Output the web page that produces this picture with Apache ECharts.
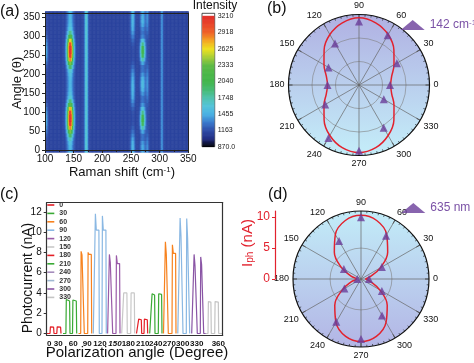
<!DOCTYPE html>
<html><head><meta charset="utf-8">
<script src="https://cdn.jsdelivr.net/npm/echarts@6/dist/echarts.min.js"></script>
<style>html,body{margin:0;padding:0;background:#fff}#c{width:474px;height:363px}</style>
</head><body><div id="c"></div>
<script>
// ================= Panel (a): Raman intensity map =================
const ramanRange = [100, 350];
const angleRange = [0, 360];
const ramanTicks = [100, 150, 200, 250, 300, 350];
const angleTickLabels = [0, 50, 100, 150, 200, 250, 300, 350];
const sampledAngles = [0,10,20,30,40,50,60,70,80,90,100,110,120,130,140,150,160,170,180,190,200,210,220,230,240,250,260,270,280,290,300,310,320,330,340,350,360];
const background = 1130;
const peakCenters = [102, 144, 172, 253, 270.5, 278.5, 304];
const peakFWHM = [5, 9, 5, 6, 7, 4, 3.5];
const peak102 = [1150,1150,1150,1170,1220,1300,1380,1430,1450,1440,1400,1320,1240,1180,1150,1150,1150,1150,1150,1150,1150,1160,1200,1280,1370,1430,1450,1440,1400,1320,1240,1180,1150,1150,1150,1150,1150];
const peak144 = [1480,1500,1560,1700,1950,2400,2900,3200,3300,3300,3150,2800,2300,1900,1650,1550,1500,1480,1480,1500,1550,1650,1950,2400,2900,3200,3300,3300,3100,2700,2200,1850,1620,1540,1500,1480,1480];
const peak172Level = 1650;
const peak253 = [1500,1500,1480,1430,1350,1280,1220,1180,1170,1170,1180,1220,1300,1380,1450,1480,1500,1500,1480,1450,1400,1330,1260,1200,1170,1160,1160,1170,1200,1250,1320,1400,1460,1490,1500,1500,1500];
const peak270 = [1450,1450,1400,1300,1300,1450,1750,2000,2100,2050,1850,1600,1400,1300,1300,1400,1500,1550,1550,1500,1400,1300,1300,1450,1750,2000,2100,2050,1850,1600,1350,1300,1350,1450,1500,1480,1450];
const peak278 = [1380,1370,1340,1300,1250,1210,1180,1170,1160,1160,1170,1180,1210,1250,1300,1340,1370,1380,1380,1370,1340,1300,1250,1210,1180,1170,1160,1160,1170,1180,1210,1250,1300,1340,1370,1380,1380];
const peak304Level = 1400;
const colorbarRange = [870, 3210];
const colorbarTickValues = [870, 1162.5, 1455, 1747.5, 2040, 2332.5, 2625, 2917.5, 3210];
const colorbarTickLabels = ['870.0', '1163', '1455', '1748', '2040', '2333', '2625', '2918', '3210'];
const colormap = ['#000000','#222d84','#2e4ba6','#3979cc','#4ab1e4','#53c3d9','#4fc2ad','#46bb73','#42b54c','#4bb748','#5eba46','#a8ce36','#eee11f','#f4a723','#ef6228','#e9452a','#e3302b'];

// ================= Panel (b): polar, 142 cm-1 =================
const polarAnglesB = [0, 30, 60, 90, 120, 150, 180, 210, 240, 270, 300, 330];
const intensityB = [0.66, 0.93, 1.22, 1.35, 1.02, 0.75, 0.67, 0.83, 1.30, 1.40, 1.05, 0.61];
const fitAnglesB = [0,15,30,45,60,75,90,105,120,135,150,165,180,195,210,225,240,255,270,285,300,315,330,345,360];
const fitB = [0.67,0.72,0.86,1.05,1.24,1.37,1.43,1.37,1.24,1.05,0.86,0.72,0.67,0.72,0.86,1.05,1.24,1.38,1.44,1.38,1.24,1.05,0.86,0.72,0.67];
const radiusMaxB = 1.5;
const ringsB = [0.5, 1.0];

// ================= Panel (c): photocurrent vs polarization =================
const angleGroups = ['0','30','60','90','120','150','180','210','240','270','300','330'];
const groupColors = ['#e41f26','#3aaa35','#f7821e','#8ab8e3','#9a5ba8','#c8c8c8','#e41f26','#3aaa35','#f7821e','#8ab8e3','#8a55a5','#c4c4c4'];
const legendColors = ['#e41f26','#3aaa35','#f7821e','#8ab8e3','#9a5ba8','#c8c8c8','#e41f26','#3aaa35','#a58cbc','#9fb8d2','#8a55a5','#c4c4c4'];
const groupBounds = [0,16.3,31.8,46.6,60.9,75,89.8,103,116.8,131.1,145,159.1,176];
const pulseOnTimes = [[3.3,10.1],[19.2,25.8],[34,41],[48.3,55.3],[62.3,69.3],[76.6,84],[91.6,97.3],[105,111.6],[118.3,125.3],[133,139.6],[147,153.6],[161.3,168]];
const pulseOffTimes = [[7.3,14.3],[23.3,30],[37.6,45],[52.6,59.6],[66,73.3],[80.6,88],[95,101],[108.3,115.3],[121.6,129.3],[136.3,143],[150.6,157],[164.6,172]];
const spikeLevels = [[0.66,0.66],[3.35,3.3],[8.1,8.0],[11.8,11.6],[7.8,7.7],[4.0,4.0],[1.42,1.42],[3.92,3.92],[9.05,8.75],[11.4,11.35],[7.8,7.55],[3.15,3.15]];
const plateauLevels = [[0.62,0.62],[3.2,3.2],[7.75,7.8],[10.2,10.2],[7.0,6.9],[4.0,4.0],[1.35,1.35],[3.8,3.85],[7.8,7.9],[9.6,9.45],[6.7,6.8],[3.1,3.1]];
const xLabelPositions = [2.6, 11.6, 26.6, 40.6, 53.3, 68.3, 81.6, 96, 109, 122.6, 136, 150, 171.6];
const xLabelTexts = ['0','30','60','90','120','150','180','210','240','270','300','330','360'];
const yTicksC = [0, 2, 4, 6, 8, 10, 12];

// ================= Panel (d): polar, 635 nm =================
const polarAnglesD = [0, 30, 60, 90, 120, 150, 180, 210, 240, 270, 300, 330];
const photocurrentD = [1.3, 3.9, 8.1, 10.0, 7.1, 3.2, 0.6, 3.1, 8.0, 9.7, 6.8, 3.9];
const fitAnglesD = [0,15,30,45,60,75,90,105,120,135,150,165,180,195,210,225,240,255,270,285,300,315,330,345,360];
const fitD = [0.7,1.6,3.6,6.1,8.3,9.8,10.3,9.8,8.3,6.1,3.6,1.6,0.7,1.6,3.5,6.0,8.1,9.6,10.1,9.6,8.1,6.0,3.5,1.6,0.7];
const radiusMaxD = 11;
const ringsD = [5];
const iphTicks = [0, 5, 10];

// ---------- build heatmap cells ----------
const RBIN = 1;
const peakAmps = [peak102, peak144, sampledAngles.map(() => peak172Level), peak253, peak270, peak278, sampledAngles.map(() => peak304Level)];
const heatData = [];
for (let ai = 0; ai < sampledAngles.length; ai++) {
  for (let x = ramanRange[0] + RBIN / 2; x < ramanRange[1]; x += RBIN) {
    let v = background;
    for (let p = 0; p < peakCenters.length; p++) {
      const d = (x - peakCenters[p]) / peakFWHM[p];
      v += (peakAmps[p][ai] - background) * Math.exp(-2.7726 * d * d);
    }
    v = Math.max(colorbarRange[0], Math.min(colorbarRange[1], v));
    heatData.push([x, sampledAngles[ai], v]);
  }
}
const CBSTEP = 10;
const colorbarData = [];
for (let v = colorbarRange[0]; v < colorbarRange[1]; v += CBSTEP) colorbarData.push([0.5, v, v + CBSTEP / 2]);

function pulseSeriesData(g) {
  const pts = [[groupBounds[g], 0]];
  for (let k = 0; k < 2; k++) {
    const on = pulseOnTimes[g][k], off = pulseOffTimes[g][k];
    pts.push([on, 0], [on + 0.4, spikeLevels[g][k]], [on + 1.3, plateauLevels[g][k]], [off - 0.4, plateauLevels[g][k]], [off, 0]);
  }
  pts.push([groupBounds[g + 1], 0]);
  return pts;
}

function polarBackground(colors, rings) {
  return function (params, api) {
    const cs = params.coordSys;
    const children = [{
      type: 'circle', shape: { cx: cs.cx, cy: cs.cy, r: cs.r },
      style: { fill: { type: 'linear', x: 0, y: 0, x2: 0, y2: 1, colorStops: [{ offset: 0, color: colors[0] }, { offset: 1, color: colors[1] }] } }
    }];
    rings.forEach(function (rv) {
      const p = api.coord([rv, 0]);
      const rr = Math.hypot(p[0] - cs.cx, p[1] - cs.cy);
      children.push({ type: 'circle', shape: { cx: cs.cx, cy: cs.cy, r: rr }, style: { fill: 'none', stroke: '#808080', lineWidth: 0.6 } });
    });
    return { type: 'group', children: children };
  };
}

const FONT = 'Liberation Sans, Arial, sans-serif';
const RED = '#e2222e';
const PURPLE = '#6a3d9a';
const PURPLE_TXT = '#7b52a6';
const plainAxis = { axisLine: { show: false }, axisTick: { show: false }, axisLabel: { show: false }, splitLine: { show: false } };

const chart = echarts.init(document.getElementById('c'), null, { renderer: 'canvas', width: 474, height: 363 });

const angleAxisCommon = {
  type: 'value', min: 0, max: 360, interval: 30, startAngle: 0, clockwise: false, z: 1,
  axisLine: { lineStyle: { color: '#111', width: 1.2 } },
  axisTick: { show: true, inside: true, length: 4, lineStyle: { color: '#111', width: 0.8 } },
  minorTick: { show: true, splitNumber: 6, length: 2, lineStyle: { color: '#111', width: 0.6 } },
  axisLabel: { margin: 4, fontSize: 9, color: '#111', fontFamily: FONT, formatter: function (v) { return v === 360 ? '' : String(v); } },
  splitLine: { show: true, lineStyle: { color: '#666', width: 0.7 } }
};

const option = {
  animation: false,
  textStyle: { fontFamily: FONT },
  grid: [
    { left: 45, top: 13.2, width: 143.3, height: 136.8 },
    { left: 202, top: 13.3, width: 12.7, height: 133.4, show: true, borderColor: '#222', borderWidth: 0.8, backgroundColor: '#fff' },
    { left: 46.7, top: 202.7, width: 176, height: 132.6 },
    { left: 275, top: 211, width: 10, height: 68 }
  ],
  xAxis: [
    { gridIndex: 0, type: 'value', min: ramanRange[0], max: ramanRange[1], interval: 50, position: 'bottom', z: 10,
      axisLine: { onZero: false, lineStyle: { color: '#222', width: 1 } },
      axisTick: { length: 3, lineStyle: { color: '#222' } },
      minorTick: { show: true, splitNumber: 2, length: 2, lineStyle: { color: '#222' } },
      axisLabel: { margin: 4, fontSize: 10, color: '#111', customValues: ramanTicks },
      splitLine: { show: false } },
    { gridIndex: 0, type: 'value', min: ramanRange[0], max: ramanRange[1], position: 'top', z: 10,
      axisLine: { onZero: false, lineStyle: { color: '#222', width: 1 } }, axisTick: { show: false }, axisLabel: { show: false }, splitLine: { show: false } },
    Object.assign({ gridIndex: 1, type: 'value', min: 0, max: 1 }, plainAxis),
    { gridIndex: 2, type: 'value', min: groupBounds[0], max: groupBounds[groupBounds.length - 1], position: 'bottom', z: 10,
      axisLine: { onZero: false, lineStyle: { color: '#333', width: 1.2 } },
      axisTick: { show: false },
      axisLabel: { margin: 4, fontSize: 8, fontWeight: 'bold', color: '#111', customValues: xLabelPositions,
        formatter: function (v) {
          let best = 0;
          for (let i = 1; i < xLabelPositions.length; i++) if (Math.abs(xLabelPositions[i] - v) < Math.abs(xLabelPositions[best] - v)) best = i;
          const t = xLabelTexts[best];
          return t === '150' ? '{it|' + t + '}' : t;
        },
        rich: { it: { fontStyle: 'italic', fontWeight: 'bold', fontSize: 8, color: '#111' } } },
      splitLine: { show: false } },
    { gridIndex: 2, type: 'value', min: groupBounds[0], max: groupBounds[groupBounds.length - 1], position: 'top', z: 10,
      axisLine: { onZero: false, lineStyle: { color: '#333', width: 1.2 } }, axisTick: { show: false }, axisLabel: { show: false }, splitLine: { show: false } },
    Object.assign({ gridIndex: 3, type: 'value', min: 0, max: 1 }, plainAxis)
  ],
  yAxis: [
    { gridIndex: 0, type: 'value', min: angleRange[0], max: angleRange[1], interval: 50, position: 'left', z: 10,
      axisLine: { onZero: false, lineStyle: { color: '#222', width: 1 } },
      axisTick: { length: 3, lineStyle: { color: '#222' } },
      minorTick: { show: true, splitNumber: 2, length: 2, lineStyle: { color: '#222' } },
      axisLabel: { margin: 5, fontSize: 10, color: '#111', customValues: angleTickLabels },
      splitLine: { show: false } },
    { gridIndex: 0, type: 'value', min: angleRange[0], max: angleRange[1], position: 'right', z: 10,
      axisLine: { onZero: false, lineStyle: { color: '#222', width: 1 } }, axisTick: { show: false }, axisLabel: { show: false }, splitLine: { show: false } },
    { gridIndex: 1, type: 'value', min: colorbarRange[0], max: 3260, position: 'right', z: 10,
      axisLine: { show: false }, axisTick: { show: false },
      axisLabel: { margin: 3, fontSize: 7, color: '#222', customValues: colorbarTickValues,
        formatter: function (v) {
          let best = 0;
          for (let i = 1; i < colorbarTickValues.length; i++) if (Math.abs(colorbarTickValues[i] - v) < Math.abs(colorbarTickValues[best] - v)) best = i;
          return colorbarTickLabels[best];
        } },
      splitLine: { show: false } },
    { gridIndex: 2, type: 'value', min: -0.18, max: 12.9, position: 'left', z: 10,
      axisLine: { onZero: false, lineStyle: { color: '#333', width: 1.2 } },
      axisTick: { length: 3, customValues: yTicksC, lineStyle: { color: '#333' } },
      axisLabel: { margin: 5, fontSize: 10, color: '#111', customValues: yTicksC },
      splitLine: { show: false } },
    { gridIndex: 2, type: 'value', min: -0.18, max: 12.9, position: 'right', z: 10,
      axisLine: { onZero: false, lineStyle: { color: '#333', width: 1.2 } }, axisTick: { show: false }, axisLabel: { show: false }, splitLine: { show: false } },
    { gridIndex: 3, type: 'value', min: 0, max: radiusMaxD, position: 'left', z: 10,
      axisLine: { onZero: false, lineStyle: { color: RED, width: 1.2 } },
      axisTick: { length: 3, customValues: iphTicks, lineStyle: { color: RED, width: 1 } },
      axisLabel: { margin: 5, fontSize: 12, color: RED, customValues: iphTicks },
      splitLine: { show: false } }
  ],
  polar: [
    { center: [359, 85], radius: 70.5 },
    { center: [361, 279], radius: 68 }
  ],
  angleAxis: [
    Object.assign({ polarIndex: 0 }, angleAxisCommon),
    Object.assign({ polarIndex: 1 }, angleAxisCommon)
  ],
  radiusAxis: [
    Object.assign({ polarIndex: 0, type: 'value', min: 0, max: radiusMaxB, z: 1 }, plainAxis),
    Object.assign({ polarIndex: 1, type: 'value', min: 0, max: radiusMaxD, z: 1 }, plainAxis)
  ],
  visualMap: {
    type: 'continuous', show: false, seriesIndex: [0, 1], dimension: 2,
    min: colorbarRange[0], max: colorbarRange[1], inRange: { color: colormap }
  },
  legend: [
    { data: angleGroups.map(function (n, i) { return { name: n, itemStyle: { color: legendColors[i] } }; }),
      orient: 'vertical', left: 47.3, top: 201.5, padding: 0, icon: 'rect', itemWidth: 7, itemHeight: 1.6, itemGap: 1.4,
      selectedMode: false, textStyle: { fontSize: 7, fontWeight: 'bold', color: '#333', lineHeight: 7 } },
    { data: ['142 cm-1'], left: 400.7, top: 19, padding: 0, itemWidth: 24, itemHeight: 10, icon: 'triangle', selectedMode: false,
      formatter: function () { return '{n|142 cm}{s|-1}'; },
      textStyle: { color: PURPLE_TXT, fontSize: 12, rich: { n: { fontSize: 12, color: PURPLE_TXT, verticalAlign: 'bottom' }, s: { fontSize: 8, color: PURPLE_TXT, verticalAlign: 'top' } } } },
    { data: ['635 nm'], left: 401.3, top: 202, padding: 0, itemWidth: 24, itemHeight: 10, icon: 'triangle', selectedMode: false,
      textStyle: { color: PURPLE_TXT, fontSize: 12 } }
  ],
  graphic: { elements: [
    { type: 'text', x: 0, y: 12, style: { text: '(a)', fontSize: 16, fontFamily: FONT, fill: '#111', textVerticalAlign: 'middle' } },
    { type: 'text', x: 215, y: 6, style: { text: 'Intensity', fontSize: 12, fontFamily: FONT, fill: '#111', textAlign: 'center', textVerticalAlign: 'middle' } },
    { type: 'text', x: 17, y: 83, rotation: Math.PI / 2, style: { text: 'Angle (θ)', fontSize: 13, fontFamily: FONT, fill: '#111', textAlign: 'center', textVerticalAlign: 'middle' } },
    { type: 'text', x: 122, y: 172, style: { text: '{n|Raman shift (cm}{s|-1}{n|)}', fontFamily: FONT, textAlign: 'center', textVerticalAlign: 'middle',
        rich: { n: { fontSize: 13, fill: '#111', fontFamily: FONT, verticalAlign: 'bottom' }, s: { fontSize: 8, fill: '#111', fontFamily: FONT, verticalAlign: 'top' } } } },
    { type: 'text', x: 267, y: 9, style: { text: '(b)', fontSize: 16, fontFamily: FONT, fill: '#111', textVerticalAlign: 'middle' } },
    { type: 'text', x: 0, y: 195, style: { text: '(c)', fontSize: 16, fontFamily: FONT, fill: '#111', textVerticalAlign: 'middle' } },
    { type: 'text', x: 28, y: 278, rotation: Math.PI / 2, style: { text: 'Photocurrent (nA)', fontSize: 14, fontFamily: FONT, fill: '#111', textAlign: 'center', textVerticalAlign: 'middle' } },
    { type: 'text', x: 137, y: 353, style: { text: 'Polarization angle (Degree)', fontSize: 15, fontFamily: FONT, fill: '#111', textAlign: 'center', textVerticalAlign: 'middle' } },
    { type: 'text', x: 268, y: 195, style: { text: '(d)', fontSize: 16, fontFamily: FONT, fill: '#111', textVerticalAlign: 'middle' } },
    { type: 'text', x: 248, y: 243, rotation: Math.PI / 2, style: { text: '{n|I}{s|ph}{n| (nA)}', fontFamily: FONT, textAlign: 'center', textVerticalAlign: 'middle',
        rich: { n: { fontSize: 15, fill: RED, fontFamily: FONT, verticalAlign: 'top' }, s: { fontSize: 10, fill: RED, fontFamily: FONT, verticalAlign: 'bottom' } } } }
  ] },
  series: [
    { type: 'custom', name: 'map', xAxisIndex: 0, yAxisIndex: 0, clip: true, silent: true, z: 2, data: heatData,
      encode: { x: 0, y: 1 },
      renderItem: function (params, api) {
        const x = api.value(0), y = api.value(1);
        const p1 = api.coord([x - RBIN / 2, y + 5]);
        const p2 = api.coord([x + RBIN / 2, y - 5]);
        return { type: 'rect', shape: { x: p1[0], y: p1[1], width: p2[0] - p1[0] + 0.5, height: p2[1] - p1[1] + 0.5 }, style: { fill: api.visual('color') } };
      } },
    { type: 'custom', name: 'colorbar', xAxisIndex: 2, yAxisIndex: 2, silent: true, z: 2, data: colorbarData,
      encode: { x: 0, y: 1 },
      renderItem: function (params, api) {
        const v = api.value(1);
        const p1 = api.coord([0, v + CBSTEP]);
        const p2 = api.coord([1, v]);
        return { type: 'rect', shape: { x: p1[0] + 0.4, y: p1[1] - 0.3, width: p2[0] - p1[0] - 0.8, height: p2[1] - p1[1] + 0.6 }, style: { fill: api.visual('color') } };
      } }
  ].concat(angleGroups.map(function (name, g) {
    return { type: 'line', name: name, xAxisIndex: 3, yAxisIndex: 3, data: pulseSeriesData(g), symbol: 'none', z: 3,
      lineStyle: { color: groupColors[g], width: 1.2 }, itemStyle: { color: groupColors[g] } };
  })).concat([
    { type: 'custom', coordinateSystem: 'polar', polarIndex: 0, silent: true, z: 0, data: [[0, 0]], renderItem: polarBackground(['#b0b0e2', '#c4eef9'], ringsB) },
    { type: 'line', coordinateSystem: 'polar', polarIndex: 0, name: 'fitB', data: fitB.map(function (r, i) { return [r, fitAnglesB[i]]; }),
      smooth: 0.4, symbol: 'none', z: 3, lineStyle: { color: RED, width: 1.5 } },
    { type: 'scatter', coordinateSystem: 'polar', polarIndex: 0, name: '142 cm-1', data: intensityB.map(function (r, i) { return [r, polarAnglesB[i]]; }),
      symbol: 'triangle', symbolSize: 8, z: 4, itemStyle: { color: PURPLE } },
    { type: 'custom', coordinateSystem: 'polar', polarIndex: 1, silent: true, z: 0, data: [[0, 0]], renderItem: polarBackground(['#c2ecf8', '#b3b5e5'], ringsD) },
    { type: 'line', coordinateSystem: 'polar', polarIndex: 1, name: 'fitD', data: fitD.map(function (r, i) { return [r, fitAnglesD[i]]; }),
      smooth: 0.4, symbol: 'none', z: 3, lineStyle: { color: RED, width: 1.5 } },
    { type: 'scatter', coordinateSystem: 'polar', polarIndex: 1, name: '635 nm', data: photocurrentD.map(function (r, i) { return [r, polarAnglesD[i]]; }),
      symbol: 'triangle', symbolSize: 8, z: 4, itemStyle: { color: PURPLE } }
  ])
};
chart.setOption(option);
</script>
</body></html>
